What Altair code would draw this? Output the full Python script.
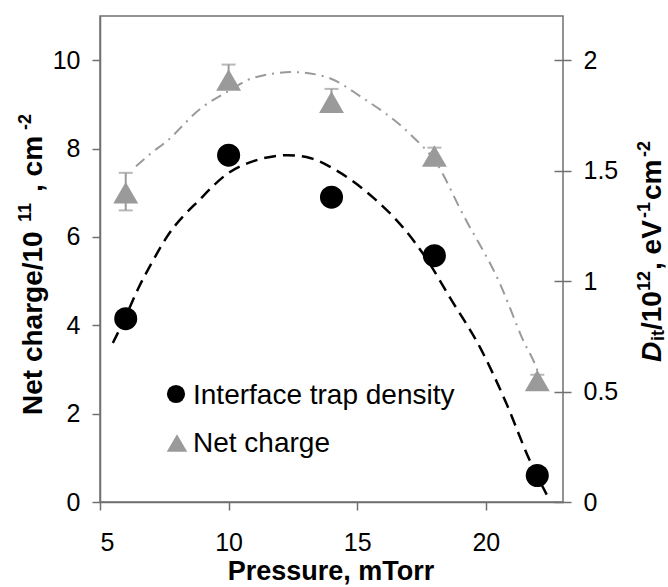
import altair as alt
import pandas as pd

FONT = "Liberation Sans"

# ---- data ----
pressure = [6, 10, 14, 18, 22]
dit_values = [0.83, 1.57, 1.38, 1.115, 0.12]          # right axis (Dit/1e12)
net_charge = [7.0, 9.55, 9.05, 7.83, 2.75]            # left axis (1e11 cm^-2)
net_err_lo = [6.6, 9.35, 8.85, 7.7, 2.65]
net_err_hi = [7.45, 9.9, 9.35, 8.02, 2.88]

dit_fit_x = [5.5, 6.0, 6.5, 7.0, 7.6, 8.9, 10.0, 11.0, 12.3, 13.2, 14.2, 15.6, 16.8, 17.7, 18.6, 19.8, 20.8, 21.7, 22.4]
dit_fit_y = [0.72, 0.84, 0.97, 1.08, 1.2, 1.372, 1.49, 1.544, 1.57, 1.556, 1.5, 1.38, 1.24, 1.1, 0.926, 0.694, 0.446, 0.19, 0.026]

net_fit_x = [6.4, 7.0, 7.6, 8.9, 10.0, 10.95, 12.5, 13.8, 15.2, 17.05, 18.1, 19.1, 20.55, 21.45, 22.0, 22.1]
net_fit_y = [7.6, 7.9, 8.17, 8.9, 9.3, 9.6, 9.73, 9.62, 9.15, 8.33, 7.65, 6.52, 4.94, 3.66, 2.98, 2.8]

x_ticks = [5, 10, 15, 20]
left_ticks = [0, 2, 4, 6, 8, 10]
right_ticks = [0, 0.5, 1, 1.5, 2]

legend_labels = ["Interface trap density", "Net charge"]

GRAY = "#9a9a9a"
AXC = "#707070"

pts = pd.DataFrame({"p": pressure, "dit": dit_values, "net": net_charge,
                    "lo": net_err_lo, "hi": net_err_hi})
dit_fit = pd.DataFrame({"p": dit_fit_x, "v": dit_fit_y})
net_fit = pd.DataFrame({"p": net_fit_x, "v": net_fit_y})
one = pd.DataFrame({"a": [0]})

xscale = alt.Scale(domain=[5, 23], nice=False, zero=False)
xaxis = alt.Axis(values=x_ticks, title=None, tickSize=8, tickColor=AXC, domainColor=AXC,
                 tickWidth=1.5, domainWidth=1.5, labelFontSize=25, labelFont=FONT,
                 labelColor="black", labelPadding=20, grid=False)
yl_scale = alt.Scale(domain=[0, 11], nice=False)
yl_axis = alt.Axis(values=left_ticks, title=None, tickSize=8, tickColor=AXC, domainColor=AXC,
                   tickWidth=1.5, domainWidth=1.5, labelFontSize=25, labelFont=FONT,
                   labelColor="black", labelPadding=12, grid=False)
yr_scale = alt.Scale(domain=[0, 2.2], nice=False)
yr_axis = alt.Axis(orient="right", values=right_ticks, title=None, tickSize=17, offset=-9,
                   domain=False, tickColor=AXC, tickWidth=1.5, labelFontSize=25,
                   labelFont=FONT, labelColor="black", labelPadding=12, grid=False,
                   format="~g")

X = alt.X("p:Q", scale=xscale, axis=xaxis)

net_curve = alt.Chart(net_fit).mark_line(color=GRAY, strokeWidth=2, strokeDash=[11, 6, 2, 6],
                                          interpolate="monotone").encode(
    x=X, y=alt.Y("v:Q", scale=yl_scale, axis=yl_axis))
err_rule = alt.Chart(pts).mark_rule(color=GRAY, strokeWidth=2).encode(
    x=X, y=alt.Y("lo:Q", scale=yl_scale, axis=yl_axis), y2="hi:Q")
cap_hi = alt.Chart(pts).mark_tick(color=GRAY, thickness=2, size=14, orient="horizontal").encode(
    x=X, y=alt.Y("hi:Q", scale=yl_scale, axis=yl_axis))
cap_lo = alt.Chart(pts).mark_tick(color=GRAY, thickness=2, size=14, orient="horizontal").encode(
    x=X, y=alt.Y("lo:Q", scale=yl_scale, axis=yl_axis))
tri = alt.Chart(pts).mark_point(shape="triangle-up", filled=True, size=620, color=GRAY,
                                opacity=1).encode(
    x=X, y=alt.Y("net:Q", scale=yl_scale, axis=yl_axis))
left = alt.layer(net_curve, err_rule, cap_hi, cap_lo, tri)

dit_curve = alt.Chart(dit_fit).mark_line(color="black", strokeWidth=2.5, strokeDash=[12, 7],
                                          interpolate="monotone").encode(
    x=X, y=alt.Y("v:Q", scale=yr_scale, axis=yr_axis))
circ = alt.Chart(pts).mark_point(shape="circle", filled=True, size=530, color="black",
                                 opacity=1).encode(
    x=X, y=alt.Y("dit:Q", scale=yr_scale, axis=yr_axis))
right = alt.layer(dit_curve, circ)


def txt(text, x, y, size, angle=0, bold=True, italic=False, align="left", color="black"):
    kw = dict(text=text, fontSize=size, font=FONT, align=align, baseline="alphabetic",
              color=color, fontWeight="bold" if bold else "normal")
    if angle:
        kw["angle"] = angle
    if italic:
        kw["fontStyle"] = "italic"
    return alt.Chart(one).mark_text(**kw).encode(x=alt.value(x), y=alt.value(y))


OX, OY = 100, 16  # plot origin in page pixels
labels = [
    # left title (reads upward)
    txt("Net charge/10", 42 - OX, 415 - OY, 28, angle=270),
    txt("11", 31 - OX, 222 - OY, 18, angle=270),
    txt(", cm", 42 - OX, 192 - OY, 28, angle=270),
    txt("-2", 31 - OX, 130 - OY, 18, angle=270),
    # right title
    txt("D", 661 - OX, 362 - OY, 28, angle=270, italic=True),
    txt("it", 664 - OX, 341 - OY, 18, angle=270),
    txt("/10", 661 - OX, 330 - OY, 28, angle=270),
    txt("12", 650 - OX, 291 - OY, 18, angle=270),
    txt(", eV", 661 - OX, 270 - OY, 28, angle=270),
    txt("-1", 650 - OX, 218 - OY, 18, angle=270),
    txt("cm", 661 - OX, 200 - OY, 28, angle=270),
    txt("-2", 650 - OX, 157 - OY, 18, angle=270),
    # x title
    txt("Pressure, mTorr", 331 - OX, 580 - OY, 27, align="center"),
    # legend
    txt(legend_labels[0], 193 - OX, 404 - OY, 28, bold=False),
    txt(legend_labels[1], 193 - OX, 452 - OY, 28, bold=False),
]
leg_c = alt.Chart(one).mark_point(shape="circle", filled=True, size=330, color="black",
                                  opacity=1).encode(x=alt.value(176 - OX), y=alt.value(394 - OY))
leg_t = alt.Chart(one).mark_point(shape="triangle-up", filled=True, size=420, color=GRAY,
                                  opacity=1).encode(x=alt.value(177 - OX), y=alt.value(443 - OY))

chart = alt.layer(left, right, leg_c, leg_t, *labels).resolve_scale(y="independent").properties(
    width=463, height=486,
    padding={"left": OX, "top": OY, "right": 668 - 563, "bottom": 587 - 502},
    autosize=alt.AutoSizeParams(type="none"),
    background="white",
).configure_view(stroke=AXC, strokeWidth=1.5)

chart.save("out.html", embed_options={"renderer": "svg", "actions": False})
